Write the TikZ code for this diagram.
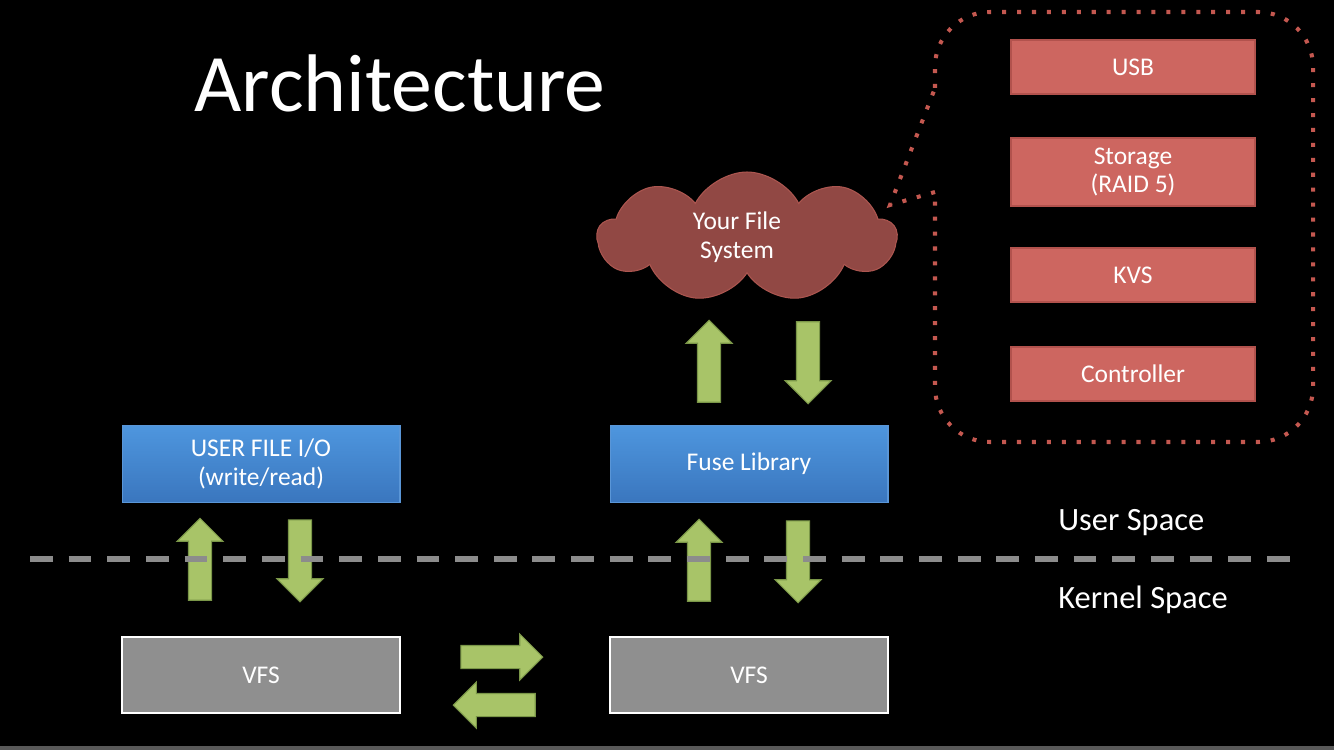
\documentclass[tikz,border=0pt]{standalone}
\usepackage{fontspec}
\setmainfont{Carlito}
\usepackage{tikz}
\usetikzlibrary{shapes.arrows,shapes.symbols}

\definecolor{redfill}{RGB}{205,102,96}
\definecolor{redline}{RGB}{178,82,77}
\definecolor{cloudfill}{RGB}{145,72,68}
\definecolor{cloudline}{RGB}{172,86,80}
\definecolor{bluetop}{RGB}{78,150,222}
\definecolor{bluebot}{RGB}{58,118,190}
\definecolor{blueline}{RGB}{90,150,215}
\definecolor{vfsfill}{RGB}{143,143,143}
\definecolor{greenfill}{RGB}{168,196,104}
\definecolor{greenline}{RGB}{122,150,72}
\definecolor{sepgray}{RGB}{140,140,140}
\definecolor{dotred}{RGB}{196,88,80}

\begin{document}
\begin{tikzpicture}[x=0.02cm, y=-0.02cm, inner sep=1mm,
  bluebox/.style={draw=blueline, line width=0.6pt, top color=bluetop, bottom color=bluebot,
    text=white, align=center, minimum width=5.56cm, minimum height=1.54cm,
    font=\fontsize{14.5}{16.5}\selectfont},
  vfsbox/.style={draw=white, line width=1.3pt, fill=vfsfill, text=white,
    minimum width=5.56cm, minimum height=1.52cm, font=\fontsize{14.5}{16.5}\selectfont},
  redbox/.style={draw=redline, line width=0.8pt, fill=redfill, text=white, align=center,
    minimum width=4.88cm, font=\fontsize{14.5}{16.5}\selectfont},
  greenarr/.style={single arrow, draw=greenline, fill=greenfill, line width=0.6pt,
    inner sep=0.22cm, minimum height=1.64cm, minimum width=0.9cm,
    single arrow head extend=0.23cm, single arrow tip angle=90},
  spacelabel/.style={text=white, anchor=west, font=\fontsize{18.5}{22}\selectfont},
  callout/.style={draw=dotred, line width=2.3pt, dash pattern=on 2.3pt off 6.2pt}]

% background
\fill[black] (0,0) rectangle (1334,750);
\useasboundingbox (0,0) rectangle (1334,750);
\fill[black!65] (0,746) rectangle (1334,750);

\node (title) at (400,112) [anchor=base, text=white, font=\fontsize{46.5}{54}\selectfont] {Architecture};

% blue boxes
\node (usr) at (261,464) [bluebox] {USER FILE I/O\\(write/read)};
\node (fuse) at (749,464) [bluebox] {Fuse Library};

% kernel side
\node (vfsl) at (261,675) [vfsbox] {VFS};
\node (vfsr) at (749,675) [vfsbox] {VFS};

% the file system
\node (fs) at (747,237) [cloud, cloud puffs=9, cloud puff arc=125, aspect=2.3, draw=cloudline,
  fill=cloudfill, line width=0.6pt, text=white, align=center, inner sep=0pt,
  minimum width=5.98cm, minimum height=2.6cm, font=\fontsize{14.5}{16.5}\selectfont]
  {Your File\hspace*{0.4cm}\\System\hspace*{0.4cm}};

% backends
\node (usb) at (1133,67) [redbox, minimum height=1.08cm] {USB};
\node (raid) at (1133,172) [redbox, minimum height=1.36cm] {Storage\\(RAID 5)};
\node (kvs) at (1133,275) [redbox, minimum height=1.08cm] {KVS};
\node (ctrl) at (1133,374) [redbox, minimum height=1.08cm] {Controller};

\draw[callout] (935,192) -- (890,205) -- (935,88);
\draw[callout, rounded corners=1.1cm] (935,88) -- (935,12) -- (1313,12) -- (1313,442) -- (935,442) -- (935,192);

% block arrows
\node (up1) at (200,565) [greenarr, rotate=90] {};
\node (dn1) at (300,555) [greenarr, rotate=-90] {};
\node (up2) at (699,566) [greenarr, rotate=90] {};
\node (dn2) at (798,556) [greenarr, rotate=-90] {};
\node (up3) at (709,367) [greenarr, rotate=90] {};
\node (dn3) at (808,357) [greenarr, rotate=-90] {};
\node (rt) at (496,657) [greenarr] {};
\node (lt) at (500,705) [greenarr, rotate=180] {};

% user / kernel separator
\draw[sepgray, line width=3.4pt, dash pattern=on 13pt off 9pt] (30,559) -- (1296,559);
\node (user) at (1053,523) [spacelabel] {User Space};
\node (kern) at (1053,600) [spacelabel] {Kernel Space};
\end{tikzpicture}
\end{document}
